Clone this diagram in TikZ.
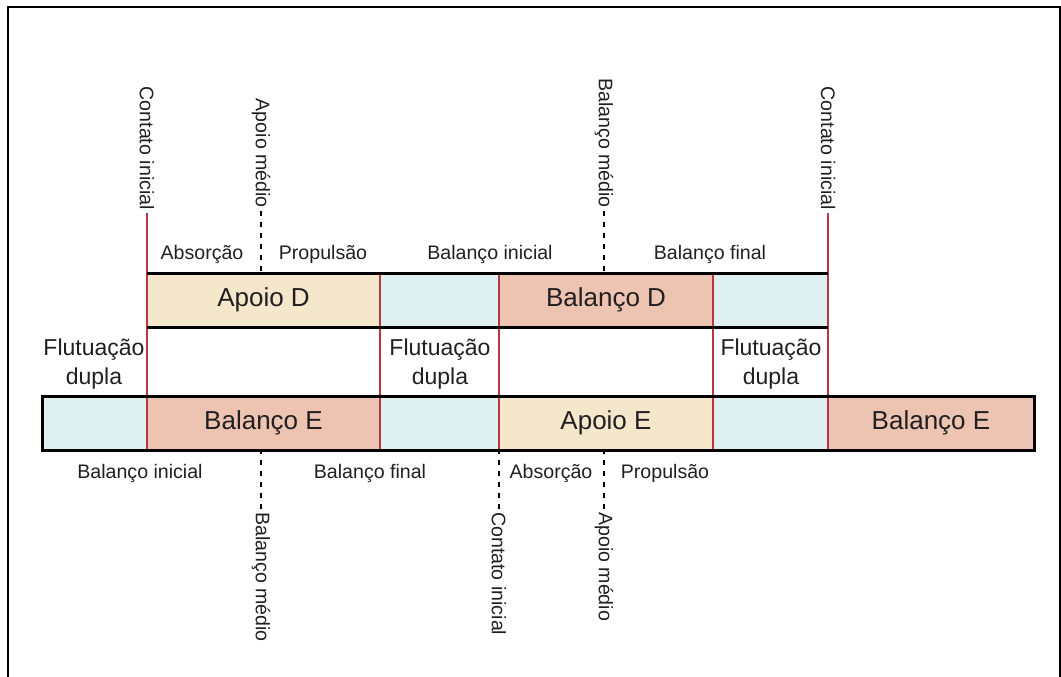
\documentclass[tikz,border=0pt]{standalone}
\usepackage{fontspec}
\setmainfont{Liberation Sans}
\usetikzlibrary{positioning}
\definecolor{apoio}{RGB}{244,231,203}
\definecolor{balanco}{RGB}{236,196,177}
\definecolor{flut}{RGB}{222,240,239}
\definecolor{fase}{RGB}{185,55,65}
\definecolor{texto}{RGB}{35,31,32}

\begin{document}
\begin{tikzpicture}[x=1pt,y=-1pt,node distance=0pt,
  cell/.style={minimum height=54pt,inner sep=0pt,outer sep=0pt,text=texto,font=\fontsize{26}{30}\selectfont},
  lbl/.style={inner sep=0pt,text=texto,font=\fontsize{19.6}{23}\selectfont},
  vlbl/.style={lbl,rotate=-90,inner sep=3pt},
  duplo/.style={align=center,inner sep=0pt,text=texto,font=\fontsize{23}{29}\selectfont},
  bar/.style={draw=black,line width=3pt},
  fase line/.style={draw=fase,line width=2pt},
  medio/.style={draw=black,line width=2.2pt,dash pattern=on 5pt off 6pt}]
  \useasboundingbox (0,0) rectangle (1061,677);
  \draw[line width=2pt] (8,677) -- (8,7) -- (1060,7) -- (1060,677);

  \node[cell,fill=apoio,minimum width=233pt,anchor=north west] (apD) at (147,273) {Apoio D};
  \node[cell,fill=flut,minimum width=119pt,right=of apD] (flD1) {};
  \node[cell,fill=balanco,minimum width=214pt,right=of flD1] (baD) {Balanço D};
  \node[cell,fill=flut,minimum width=115pt,right=of baD] (flD2) {};

  \node[cell,fill=flut,minimum width=105pt,anchor=north west] (flE0) at (42,396) {};
  \node[cell,fill=balanco,minimum width=233pt,right=of flE0] (baE1) {Balanço E};
  \node[cell,fill=flut,minimum width=119pt,right=of baE1] (flE1) {};
  \node[cell,fill=apoio,minimum width=214pt,right=of flE1] (apE) {Apoio E};
  \node[cell,fill=flut,minimum width=115pt,right=of apE] (flE2) {};
  \node[cell,fill=balanco,minimum width=206pt,right=of flE2] (baE2) {Balanço E};

  \node[vlbl,anchor=east] (ciD1) at (147,213) {Contato inicial};
  \node[vlbl,anchor=east] (amD) at (261,211) {Apoio médio};
  \node[vlbl,anchor=east] (bmD) at (604,211) {Balanço médio};
  \node[vlbl,anchor=east] (ciD2) at (828,213) {Contato inicial};
  \node[vlbl,anchor=west] (bmE) at (261,509) {Balanço médio};
  \node[vlbl,anchor=west] (ciE) at (499,509) {Contato inicial};
  \node[vlbl,anchor=west] (amE) at (604,509) {Apoio médio};

  \node[lbl,anchor=base] (abD) at (202,259) {Absorção};
  \node[lbl,anchor=base] (prD) at (323,259) {Propulsão};
  \node[lbl,anchor=base] (biD) at (490,259) {Balanço inicial};
  \node[lbl,anchor=base] (bfD) at (710,259) {Balanço final};
  \node[lbl,anchor=base] (biE) at (140,478) {Balanço inicial};
  \node[lbl,anchor=base] (bfE) at (370,478) {Balanço final};
  \node[lbl,anchor=base] (abE) at (551,478) {Absorção};
  \node[lbl,anchor=base] (prE) at (665,478) {Propulsão};

  \node[duplo] (fl1) at (94,364) {Flutuação\\dupla};
  \node[duplo] (fl2) at (440,364) {Flutuação\\dupla};
  \node[duplo] (fl3) at (771,364) {Flutuação\\dupla};

  \draw[fase line] (ciD1.east) -- (baE1.south west);
  \draw[fase line] (apD.north east) -- (flE1.south west);
  \draw[fase line] (flD1.north east) -- (apE.south west);
  \draw[fase line] (baD.north east) -- (flE2.south west);
  \draw[fase line] (ciD2.east) -- (baE2.south west);

  \draw[bar] (apD.north west) -- (flD2.north east);
  \draw[bar] (apD.south west) -- (flD2.south east);
  \draw[bar] (flE0.north west) rectangle (baE2.south east);

  \draw[medio] (amD.east) -- (amD.east |- apD.north);
  \draw[medio] (bmD.east) -- (bmD.east |- baD.north);
  \draw[medio] (bmE.west) -- (bmE.west |- baE1.south);
  \draw[medio] (ciE.west) -- (ciE.west |- apE.south);
  \draw[medio] (amE.west) -- (amE.west |- apE.south);
\end{tikzpicture}
\end{document}
